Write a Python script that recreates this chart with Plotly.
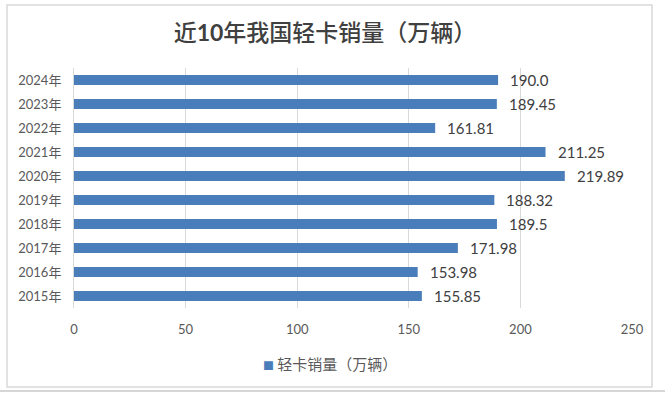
import plotly.graph_objects as go

years = ["2015年", "2016年", "2017年", "2018年", "2019年", "2020年", "2021年", "2022年", "2023年", "2024年"]
sales = [155.85, 153.98, 171.98, 189.5, 188.32, 219.89, 211.25, 161.81, 189.45, 190.0]
x_ticks = [0, 50, 100, 150, 200, 250]

title_text = "近<b>10</b>年我国轻卡销量（万辆）"
series_name = "轻卡销量（万辆）"

FONT = "Lato, 'Noto Sans CJK SC', sans-serif"
BAR = "#4A7EBB"
GRID = "#d9d9d9"

fig = go.Figure()
fig.add_trace(go.Bar(
    x=sales, y=years, orientation="h", name=series_name,
    marker=dict(color=BAR, line=dict(width=0)),
    showlegend=False,
))

for v, yr in zip(sales, years):
    fig.add_annotation(x=v, y=yr, xref="x", yref="y", text=str(v),
                       showarrow=False, xanchor="left", xshift=10,
                       font=dict(family=FONT, size=15, color="#404040"))

# legend entry (Excel style: small square tight against text)
fig.add_annotation(xref="paper", yref="paper",
                   x=(261 - 74) / 558, y=(308 - 363) / 240,
                   xanchor="left", yanchor="middle", showarrow=False,
                   text="<span style='color:%s;font-size:11px'>■</span> %s" % (BAR, series_name),
                   font=dict(family="'Noto Sans CJK SC', sans-serif", size=15, color="#595959"))

# outer frame
fig.add_shape(type="rect", xref="paper", yref="paper",
              x0=(7 - 74) / 558, x1=(652 - 74) / 558,
              y0=(308 - 387) / 240, y1=1 + (68 - 5) / 240,
              line=dict(color="#d9d9d9", width=1.5), layer="below")
fig.add_shape(type="line", xref="paper", yref="paper",
              x0=-74 / 558, x1=(665 - 74) / 558,
              y0=(308 - 391) / 240, y1=(308 - 391) / 240,
              line=dict(color="#d6d6d6", width=2))

fig.update_layout(
    width=665, height=396,
    margin=dict(l=74, r=33, t=68, b=88),
    paper_bgcolor="white", plot_bgcolor="white",
    bargap=0.58,
    font=dict(family=FONT, color="#595959"),
    title=dict(text=title_text, x=325 / 665, xanchor="center",
               y=1 - 33 / 396, yanchor="middle",
               font=dict(family=FONT, size=23, color="#404040", weight=500)),
    xaxis=dict(range=[0, 250], tickvals=x_ticks, showgrid=True, gridcolor=GRID,
               gridwidth=1, zeroline=False, showline=False,
               tickfont=dict(family=FONT, size=13, color="#595959"),
               ticklabelstandoff=12),
    yaxis=dict(showgrid=False, showline=True, linecolor=GRID, linewidth=1,
               tickfont=dict(family=FONT, size=13, color="#595959"),
               ticklabelstandoff=9),
    showlegend=False,
)

fig.write_html("out.html", config={"displayModeBar": False},
               post_script="document.body.style.margin='0';document.body.style.padding='0';document.body.style.overflow='hidden';")
